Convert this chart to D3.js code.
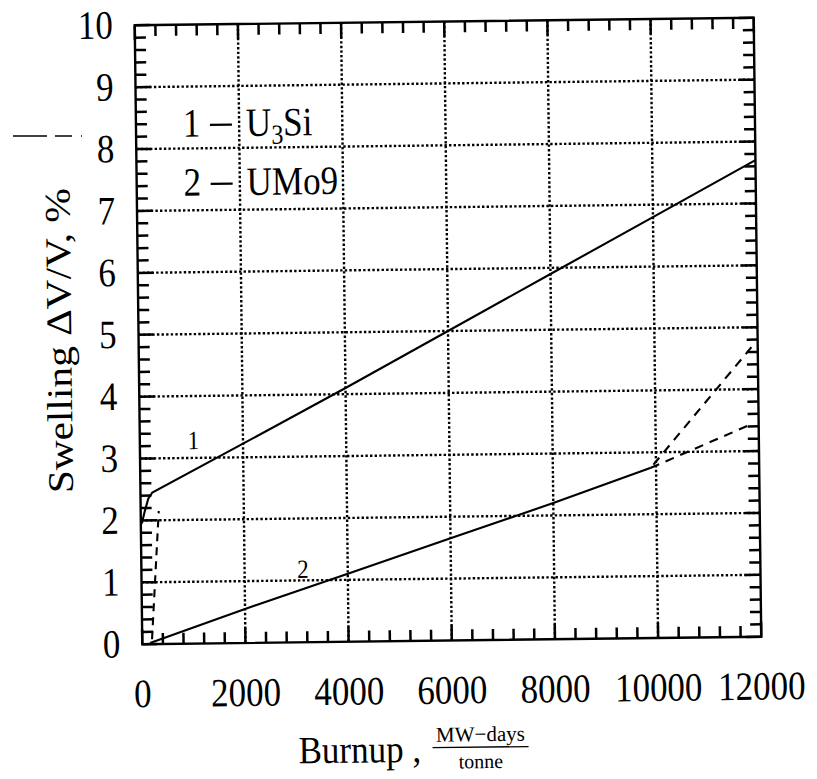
<!DOCTYPE html>
<meta charset="utf-8">
<title>Swelling vs Burnup</title>
<style>
body { margin: 0; background: #fff; }
</style>

<script src="https://d3js.org/d3.v7.min.js"></script>

<div id="chart">
</div>

<script>

// axis ticks
var xTicks = [0, 2000, 4000, 6000, 8000, 10000, 12000],
    yTicks = [0, 1, 2, 3, 4, 5, 6, 7, 8, 9, 10];

// curve 1 : U3Si
var u3siX = [20, 80, 150, 230, 2000, 4000, 6000, 8000, 10000, 12000],
    u3siY = [1.95, 2.15, 2.35, 2.45, 3.22, 4.1, 5.0, 5.9, 6.8, 7.7];

// dashed branch of curve 1 near zero burnup
var u3siDashX = [190, 350],
    u3siDashY = [0.08, 2.15];

// curve 2 : UMo9
var umoX = [150, 2000, 4000, 6000, 8000, 9900],
    umoY = [0.02, 0.55, 1.1, 1.65, 2.2, 2.75];

// dashed extrapolations of curve 2
var umoUpX = [9950, 11900],
    umoUpY = [2.8, 4.7],
    umoLowX = [9900, 11900],
    umoLowY = [2.75, 3.45];

// legend and curve labels
var legendNum = ["1", "2"],
    legendName = [["U", "3", "Si"], ["UMo9", "", ""]],
    curveLabels = [{x: 1040, y: 3.27, t: "1"}, {x: 3130, y: 1.17, t: "2"}];

var width = 619,
    height = 619,
    cx = 448,
    cy = 331,
    serif = "'Liberation Serif', 'DejaVu Serif', serif";

var svg = d3.select("#chart").append("svg")
    .attr("width", 817)
    .attr("height", 779)
    .attr("font-family", serif);

// the scanned page is turned a little, so the whole figure is too
var g = svg.append("g")
    .attr("transform", "translate(" + (cx - width / 2) + "," + (cy - height / 2) + ")" +
          " rotate(-0.7," + width / 2 + "," + height / 2 + ")");

var x = d3.scaleLinear()
    .domain([0, 12000])
    .range([0, width]);

var y = d3.scaleLinear()
    .domain([0, 10])
    .range([height, 0]);

var xMinor = d3.range(0, 12001, 400),
    yMinor = d3.range(0, 10.01, 0.2);

// dotted grid
g.selectAll(".vgrid")
    .data(xTicks.slice(1, -1))
    .enter().append("line")
    .attr("class", "vgrid")
    .attr("x1", function (d) { return x(d); })
    .attr("x2", function (d) { return x(d); })
    .attr("y1", 0)
    .attr("y2", height)
    .attr("stroke", "#000")
    .attr("stroke-width", 2.4)
    .attr("stroke-dasharray", "2.4,2.2");

g.selectAll(".hgrid")
    .data(yTicks.slice(1, -1))
    .enter().append("line")
    .attr("class", "hgrid")
    .attr("y1", function (d) { return y(d); })
    .attr("y2", function (d) { return y(d); })
    .attr("x1", 0)
    .attr("x2", width)
    .attr("stroke", "#000")
    .attr("stroke-width", 2.4)
    .attr("stroke-dasharray", "2.4,2.2");

g.append("rect")
    .attr("width", width)
    .attr("height", height)
    .attr("fill", "none")
    .attr("stroke", "#000")
    .attr("stroke-width", 2.4);

// inward ticks on all four sides: minor every 400 / 0.2, major at labels
var xTickSet = xMinor.map(function (d) { return {v: d, len: d % 2000 === 0 ? 15 : 11}; }),
    yTickSet = yMinor.map(function (d, i) { return {v: d, len: i % 5 === 0 ? 15 : 11}; });

[0, 1].forEach(function (side) {
  g.selectAll(".xt" + side)
      .data(xTickSet)
      .enter().append("line")
      .attr("class", "xt" + side)
      .attr("x1", function (d) { return x(d.v); })
      .attr("x2", function (d) { return x(d.v); })
      .attr("y1", side ? 0 : height)
      .attr("y2", function (d) { return side ? d.len : height - d.len; })
      .attr("stroke", "#000")
      .attr("stroke-width", 2.5);

  g.selectAll(".yt" + side)
      .data(yTickSet)
      .enter().append("line")
      .attr("class", "yt" + side)
      .attr("y1", function (d) { return y(d.v); })
      .attr("y2", function (d) { return y(d.v); })
      .attr("x1", side ? width : 0)
      .attr("x2", function (d) { return side ? width - d.len : d.len; })
      .attr("stroke", "#000")
      .attr("stroke-width", 2.5);
});

// tick labels
g.selectAll(".xlab")
    .data(xTicks)
    .enter().append("text")
    .attr("class", "xlab")
    .attr("transform", function (d) { return "translate(" + x(d) + "," + (height + 63) + ") scale(1,1.15)"; })
    .attr("text-anchor", "middle")
    .attr("font-size", 35)
    .text(function (d) { return d; });

g.selectAll(".ylab")
    .data(yTicks)
    .enter().append("text")
    .attr("class", "ylab")
    .attr("transform", function (d) { return "translate(-22," + (y(d) + 13) + ") scale(1,1.15)"; })
    .attr("text-anchor", "end")
    .attr("font-size", 35)
    .text(function (d) { return d; });

// curves
function pts(xs, ys) {
  return xs.map(function (v, i) { return [v, ys[i]]; });
}

var line = d3.line()
    .x(function (d) { return x(d[0]); })
    .y(function (d) { return y(d[1]); });

var curves = [
  {p: pts(u3siX, u3siY), dash: null},
  {p: pts(umoX, umoY), dash: null},
  {p: pts(u3siDashX, u3siDashY), dash: "8,6"},
  {p: pts(umoUpX, umoUpY), dash: "9,7"},
  {p: pts(umoLowX, umoLowY), dash: "9,7"}
];

g.selectAll(".curve")
    .data(curves)
    .enter().append("path")
    .attr("class", "curve")
    .attr("d", function (d) { return line(d.p); })
    .attr("fill", "none")
    .attr("stroke", "#000")
    .attr("stroke-width", 2.1)
    .attr("stroke-dasharray", function (d) { return d.dash; });

g.selectAll(".clab")
    .data(curveLabels)
    .enter().append("text")
    .attr("class", "clab")
    .attr("transform", function (d) { return "translate(" + x(d.x) + "," + (y(d.y) + 8) + ") scale(1,1.15)"; })
    .attr("text-anchor", "middle")
    .attr("font-size", 23)
    .text(function (d) { return d.t; });

// legend
var leg = g.selectAll(".leg")
    .data(legendNum)
    .enter().append("g")
    .attr("class", "leg")
    .attr("transform", function (d, i) { return "translate(0," + (112 + i * 59) + ") scale(1,1.15)"; });

leg.append("text")
    .attr("x", 47)
    .attr("font-size", 35)
    .text(function (d) { return d; });

leg.append("line")
    .attr("x1", 74)
    .attr("x2", 96)
    .attr("y1", -10)
    .attr("y2", -10)
    .attr("stroke", "#000")
    .attr("stroke-width", 1.8);

var nm = leg.append("text")
    .attr("x", 110)
    .attr("font-size", 35);

nm.append("tspan").text(function (d, i) { return legendName[i][0]; });
nm.append("tspan")
    .attr("dy", 7)
    .attr("font-size", 24)
    .text(function (d, i) { return legendName[i][1]; });
nm.append("tspan")
    .attr("dy", -7)
    .text(function (d, i) { return legendName[i][2]; });

// axis titles
g.append("text")
    .attr("transform", "translate(-80," + (height / 2 + 5) + ") rotate(-90)")
    .attr("text-anchor", "middle")
    .attr("dy", "0.35em")
    .attr("textLength", 305)
    .attr("lengthAdjust", "spacingAndGlyphs")
    .attr("font-size", 36)
    .text("Swelling \u0394V/V, %");

g.append("text")
    .attr("transform", "translate(155," + (height + 121) + ") scale(1,1.1)")
    .attr("font-size", 35)
    .text("Burnup ,");

g.append("text")
    .attr("x", 337)
    .attr("y", height + 101)
    .attr("text-anchor", "middle")
    .attr("font-size", 21)
    .text("MW\u2212days");

g.append("line")
    .attr("x1", 289)
    .attr("x2", 385)
    .attr("y1", height + 107)
    .attr("y2", height + 107)
    .attr("stroke", "#000")
    .attr("stroke-width", 1.3);

g.append("text")
    .attr("x", 337)
    .attr("y", height + 128)
    .attr("text-anchor", "middle")
    .attr("font-size", 20)
    .text("tonne");

// stray pen mark left of the frame on the scan
svg.append("line")
    .attr("x1", 13)
    .attr("x2", 82)
    .attr("y1", 136)
    .attr("y2", 136)
    .attr("stroke", "#000")
    .attr("stroke-width", 1.5)
    .attr("stroke-dasharray", "34,8,17,9,2");

</script>
